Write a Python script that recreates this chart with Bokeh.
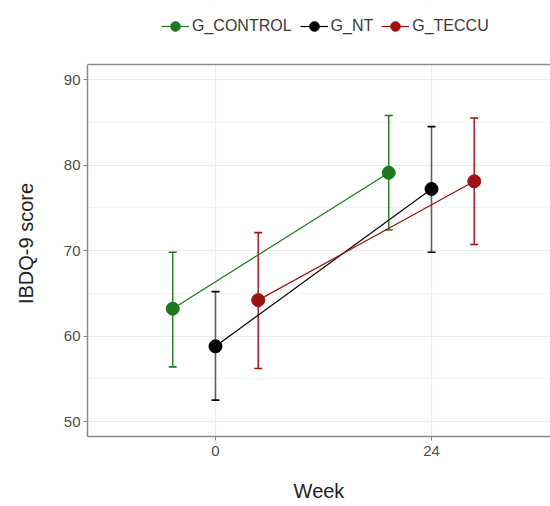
from bokeh.plotting import figure
from bokeh.models import (ColumnDataSource, FixedTicker, Whisker, TeeHead, Legend,
                          LegendItem, Span, BoxAnnotation)
from bokeh.embed import file_html
from bokeh.resources import INLINE

# ---- data ----
groups = ["G_CONTROL", "G_NT", "G_TECCU"]
weeks = [0, 24]
means = {
    "G_CONTROL": [63.2, 79.1],
    "G_NT": [58.8, 77.2],
    "G_TECCU": [64.2, 78.1],
}
lower = {
    "G_CONTROL": [56.4, 72.4],
    "G_NT": [52.5, 69.8],
    "G_TECCU": [56.2, 70.7],
}
upper = {
    "G_CONTROL": [69.8, 85.8],
    "G_NT": [65.2, 84.5],
    "G_TECCU": [72.1, 85.5],
}
x_ticks = [0, 24]
y_ticks = [50, 60, 70, 80, 90]
y_minor = [55, 65, 75, 85]

# ---- style ----
colors = {"G_CONTROL": "#1b7a1b", "G_NT": "#000000", "G_TECCU": "#9c1111"}
dodge = {"G_CONTROL": -4.75, "G_NT": 0.0, "G_TECCU": 4.75}
FONT = "Liberation Sans"
PANEL_TOP = 91.75
PANEL_BOTTOM = 48.25

p = figure(width=550, height=506, output_backend="svg", toolbar_location=None,
           x_range=(-14.22, 37.22), y_range=(PANEL_BOTTOM, 99.25),
           min_border_left=87, min_border_right=0, min_border_top=0,
           min_border_bottom=70)
p.outline_line_color = None
p.background_fill_color = "white"

# grid
p.xgrid.ticker = FixedTicker(ticks=x_ticks)
p.ygrid.ticker = FixedTicker(ticks=y_ticks, minor_ticks=y_minor)
p.xgrid.grid_line_color = "#ebebeb"
p.ygrid.grid_line_color = "#ebebeb"
p.xgrid.grid_line_width = 1.2
p.ygrid.grid_line_width = 1.2
p.ygrid.minor_grid_line_color = "#f3f3f3"
p.ygrid.minor_grid_line_width = 1

# axes
p.xaxis.ticker = FixedTicker(ticks=x_ticks)
p.yaxis.ticker = FixedTicker(ticks=y_ticks)
p.yaxis.bounds = (PANEL_BOTTOM, PANEL_TOP)
for ax in (p.xaxis[0], p.yaxis[0]):
    ax.axis_line_color = "#8a8a8a"
    ax.axis_line_width = 1.5
    ax.major_tick_line_color = "#8a8a8a"
    ax.major_tick_in = 0
    ax.major_tick_out = 4
    ax.minor_tick_line_color = None
    ax.major_label_text_font = FONT
    ax.major_label_text_font_size = "15px"
    ax.major_label_text_color = "#4d4d4d"
    ax.axis_label_text_font = FONT
    ax.axis_label_text_font_size = "20px"
    ax.axis_label_text_font_style = "normal"
    ax.axis_label_text_color = "#222222"
p.xaxis.axis_label = "Week"
# trailing no-break spaces centre the title on the visible panel, not the whole frame
p.yaxis.axis_label = "IBDQ-9 score" + "\u00a0" * 9
p.xaxis.major_label_standoff = 5
p.xaxis.axis_label_standoff = 21
p.yaxis.major_label_standoff = 3
p.yaxis.axis_label_standoff = 24

# white mask above the panel and panel top border
mask = BoxAnnotation(bottom=PANEL_TOP, fill_color="white", fill_alpha=1.0,
                     line_color=None, level="underlay")
p.add_layout(mask)
top_line = Span(location=PANEL_TOP, dimension="width", line_color="#8a8a8a", line_width=1.5)
p.add_layout(top_line)

items = []
for g in groups:
    xs = [w + dodge[g] for w in weeks]
    src = ColumnDataSource(dict(x=xs, y=means[g], lo=lower[g], hi=upper[g]))
    wk = Whisker(source=src, base="x", lower="lo", upper="hi", dimension="height",
                 line_color=colors[g], line_width=1.6,
                 line_alpha=0.6 if g == "G_NT" else 0.9,
                 upper_head=TeeHead(size=8, line_color=colors[g], line_width=1.6),
                 lower_head=TeeHead(size=8, line_color=colors[g], line_width=1.6))
    p.add_layout(wk)
    ln = p.line("x", "y", source=src, line_color=colors[g], line_width=1.2)
    sc = p.scatter("x", "y", source=src, size=13, fill_color=colors[g],
                   line_color=colors[g])
    items.append(LegendItem(label=g, renderers=[ln, sc]))

legend = Legend(items=items, orientation="horizontal", location=(74, 398),
                label_text_font=FONT, label_text_font_size="16px",
                label_text_color="#3a3a3a", glyph_width=28, glyph_height=24,
                spacing=8, label_standoff=3, padding=4, margin=0,
                border_line_color=None, background_fill_alpha=0)
p.add_layout(legend)

open("out.html", "w").write(file_html(p, INLINE))
